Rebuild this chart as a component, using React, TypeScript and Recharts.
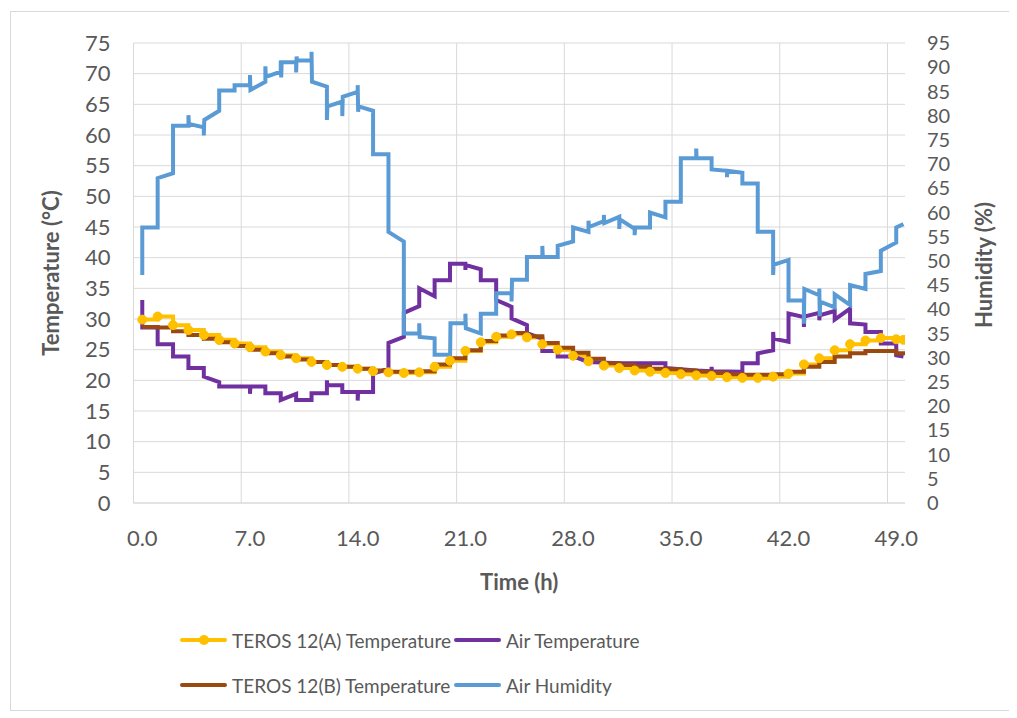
import React from "react";
import { LineChart, Line, XAxis, YAxis, CartesianGrid, ReferenceLine, Legend } from "recharts";

const FONT = "Lato, 'Open Sans', sans-serif";
const TEXT = "#595959";
const GRID = "#d9d9d9";

// hourly time stamps of the TEROS sensors (h)
const hours = [
  0, 1, 2, 3, 4, 5, 6, 7, 8, 9, 10, 11, 12, 13, 14, 15, 16, 17, 18, 19, 20, 21, 22, 23, 24,
  25, 26, 27, 28, 29, 30, 31, 32, 33, 34, 35, 36, 37, 38, 39, 40, 41, 42, 43, 44, 45, 46, 47,
  48, 49, 49.47,
];
const terosA = [
  29.9, 30.4, 29.0, 28.2, 27.4, 26.6, 26.0, 25.4, 24.7, 24.1,
  23.6, 23.0, 22.5, 22.2, 21.9, 21.5, 21.3, 21.2, 21.3, 22.2,
  23.2, 24.8, 26.2, 27.1, 27.5, 27.0, 25.9, 25.0, 24.0, 23.1,
  22.4, 22.0, 21.6, 21.4, 21.2, 21.0, 20.8, 20.7, 20.5, 20.4,
  20.4, 20.6, 21.1, 22.6, 23.6, 24.9, 25.9, 26.5, 26.9, 26.7,
  26.6,
];
const terosB = [
  28.7, 28.6, 28.0, 27.4, 26.8, 26.2, 25.6, 25.0, 24.4, 23.9,
  23.4, 23.0, 22.5, 22.2, 21.9, 21.6, 21.4, 21.4, 21.5, 22.6,
  23.6, 24.9, 26.4, 27.3, 27.7, 27.2, 26.1, 25.3, 24.5, 23.5,
  22.8, 22.5, 22.2, 21.9, 21.8, 21.6, 21.4, 21.2, 21.0, 20.9,
  20.9, 21.0, 21.4, 22.2, 23.0, 23.9, 24.4, 24.8, 24.8, 24.4,
  24.1,
];
// [time (h), air temperature (°C)]
const airTemperature: [number, number][] = [
  [0, 33.1], [0, 28.6], [1, 28.6], [1, 25.9], [2, 25.9], [2, 23.9], [3, 23.9], [3, 22.0],
  [4, 22.0], [4, 20.6], [5, 19.7], [5, 19.0], [7, 19.0], [7, 17.8], [7.03, 19.0], [8, 19.0],
  [8, 17.9], [9, 17.9], [9, 16.8], [10, 17.8], [10, 16.8], [11, 16.8], [11, 17.9], [12, 17.9],
  [12, 20.0], [12.03, 19.2], [13, 19.2], [13, 18.1], [14, 18.1], [14, 16.7], [14.03, 18.1],
  [15, 18.1], [15, 21.1], [16, 21.9], [16, 26.1], [17, 27.1], [17, 31.0], [18, 32.1],
  [18, 35.0], [19, 33.7], [19, 36.3], [20, 36.3], [20, 39.0], [21, 39.0], [21, 38.0],
  [21.03, 38.8], [22, 38.1], [22, 36.3], [23, 36.3], [23, 33.1], [24, 32.0], [24, 30.1],
  [25, 29.0], [25, 27.7], [26, 26.8], [26, 24.8], [27, 24.8], [27, 23.9], [28, 23.9],
  [29, 23.0], [31, 22.8], [34, 22.8], [34, 22.0], [36, 21.6], [37, 21.5], [37, 22.2],
  [37.03, 21.5], [39, 21.4], [39, 22.8], [40, 22.8], [40, 24.4], [41, 24.9], [41, 27.9],
  [41.03, 26.8], [42, 26.3], [42, 30.9], [43, 30.3], [43, 28.7], [43.03, 30.4], [44, 31.0],
  [44, 29.8], [44.03, 30.6], [45, 31.3], [45, 29.9], [46, 31.7], [46, 29.3], [47, 29.1],
  [47, 27.9], [48, 27.9], [48, 26.0], [49, 26.0], [49, 24.1], [49.47, 23.9],
];
// [time (h), air humidity (%)]
const airHumidity: [number, number][] = [
  [0, 47.1], [0, 56.9], [1, 56.9], [1, 67.1], [2, 68.1], [2, 77.9], [3, 77.9], [3, 80.1],
  [3.03, 78.3], [4, 77.6], [4, 75.9], [4.03, 79.1], [5, 81.0], [5, 85.2], [6, 85.2], [6, 86.3],
  [7, 86.3], [7, 88.4], [7.03, 85.3], [8, 87.0], [8, 90.2], [8.03, 88.0], [9, 89.1], [9, 91.4],
  [9.03, 87.9], [9.06, 91.0], [10, 91.0], [10, 88.9], [10.03, 92.2], [10.06, 91.4], [11, 91.4],
  [11, 93.2], [11.03, 87.0], [12, 86.0], [12, 79.1], [12.03, 81.9], [13, 82.9], [13, 79.9],
  [13.03, 83.9], [14, 84.9], [14, 86.3], [14.03, 80.8], [14.06, 81.9], [15, 81.0], [15, 72.0],
  [16, 72.0], [16, 56.0], [17, 54.0], [17, 35.0], [18, 35.0], [18, 37.1], [18.03, 34.3],
  [19, 34.0], [19, 30.6], [20, 30.6], [20, 28.9], [20.03, 37.1], [21, 37.1], [21, 39.1],
  [21.03, 36.1], [22, 35.0], [22, 39.1], [23, 39.1], [23, 43.3], [24, 43.3], [24, 41.6],
  [24.03, 46.1], [25, 46.1], [25, 50.8], [26, 50.8], [26, 53.1], [26.03, 50.8], [27, 50.8],
  [27, 53.1], [28, 54.0], [28, 56.9], [29, 56.0], [29, 58.3], [29.03, 57.0], [30, 58.2],
  [30, 59.5], [30.03, 57.8], [31, 59.1], [31, 56.6], [31.03, 58.6], [32, 56.6], [32, 55.3],
  [32.03, 56.9], [33, 56.9], [33, 60.0], [34, 59.0], [34, 62.2], [35, 62.2], [35, 71.2],
  [36, 71.2], [36, 73.2], [36.03, 71.2], [37, 71.2], [37, 68.9], [38, 68.6], [38, 67.3],
  [38.03, 68.6], [39, 68.2], [39, 66.0], [40, 66.0], [40, 56.0], [41, 56.0], [41, 47.1],
  [41.03, 49.2], [42, 50.2], [42, 41.8], [43, 41.8], [43, 37.0], [43.03, 44.2], [44, 42.9],
  [44, 44.3], [44.03, 38.6], [44.06, 41.6], [45, 40.4], [45, 43.1], [46, 40.9], [46, 45.0],
  [47, 44.2], [47, 47.3], [48, 47.9], [48, 52.1], [49, 53.8], [49, 56.9], [49.47, 57.6],
];

const timeTicks = [0, 7, 14, 21, 28, 35, 42, 49];
const temperatureTicks = [0, 5, 10, 15, 20, 25, 30, 35, 40, 45, 50, 55, 60, 65, 70, 75];
const humidityTicks = [0, 5, 10, 15, 20, 25, 30, 35, 40, 45, 50, 55, 60, 65, 70, 75, 80, 85, 90, 95];

const seriesInfo = [
  { name: "TEROS 12(A) Temperature", color: "#FFC000", marker: true },
  { name: "Air Temperature", color: "#7030A0", marker: false },
  { name: "TEROS 12(B) Temperature", color: "#9A4A10", marker: false },
  { name: "Air Humidity", color: "#5B9BD5", marker: false },
];

// half a category of padding on each side of the time axis (Excel "between tick marks")
const HALF = 0.57;

const dataA = hours.map((t, i) => ({ t, v: terosA[i] }));
const dataB = hours.map((t, i) => ({ t, v: terosB[i] }));
const dataAir = airTemperature.map(([t, v]) => ({ t, v }));
const dataHum = airHumidity.map(([t, v]) => ({ t, v }));

const LegendBox = () => (
  <div style={{ position: "relative", width: 520, height: 90, fontFamily: FONT, color: TEXT, fontSize: 19 }}>
    {seriesInfo.map((s, i) => {
      const col = i % 2;
      const row = Math.floor(i / 2);
      return (
        <div
          key={s.name}
          style={{
            position: "absolute",
            left: col === 0 ? 12 : 286,
            top: row * 45,
            height: 44,
            display: "flex",
            alignItems: "center",
            whiteSpace: "nowrap",
          }}
        >
          <div style={{ position: "relative", width: 47, height: 4, background: s.color, borderRadius: 2, marginRight: 5 }}>
            {s.marker && (
              <div
                style={{
                  position: "absolute",
                  left: 19,
                  top: -3,
                  width: 10,
                  height: 10,
                  borderRadius: 5,
                  background: s.color,
                }}
              />
            )}
          </div>
          <span>{s.name}</span>
        </div>
      );
    })}
  </div>
);

export default function App() {
  return (
    <div style={{ position: "relative", width: 1005, height: 706 }}>
      <div
        style={{
          position: "absolute",
          left: 2,
          top: 3,
          width: 1002,
          height: 700,
          border: "1px solid #d9d9d9",
          boxSizing: "border-box",
          pointerEvents: "none",
        }}
      />
      <LineChart width={1001} height={702} margin={{ top: 35, right: 0, bottom: 0, left: 0 }}>
        <CartesianGrid yAxisId="left" xAxisId="time" vertical={false} stroke={GRID} strokeWidth={1} />
        <XAxis
          xAxisId="time"
          type="number"
          dataKey="t"
          domain={[-HALF, 49 + HALF]}
          allowDataOverflow
          ticks={timeTicks}
          tickFormatter={(v: number) => v.toFixed(1)}
          tickLine={false}
          tickSize={0}
          tickMargin={27}
          axisLine={{ stroke: GRID }}
          tick={{ fill: TEXT, fontSize: 22, fontFamily: FONT }}
          height={117}
          label={{
            content: (p: any) => {
              const vb = p.viewBox;
              return (
                <text
                  x={vb.x + vb.width / 2}
                  y={vb.y + 78}
                  textAnchor="middle"
                  dominantBaseline="central"
                  fill={TEXT}
                  fontFamily={FONT}
                  fontWeight="bold"
                  fontSize={22}
                >
                  Time (h)
                </text>
              );
            },
          }}
        />
        <YAxis
          yAxisId="left"
          domain={[0, 75]}
          ticks={temperatureTicks}
          interval={0}
          width={125.5}
          tickLine={false}
          tickSize={0}
          tickMargin={23}
          axisLine={false}
          tick={{ fill: TEXT, fontSize: 22, fontFamily: FONT }}
          label={{
            content: (p: any) => {
              const vb = p.viewBox;
              const cx = vb.x + 42;
              const cy = vb.y + vb.height / 2;
              return (
                <text
                  x={cx}
                  y={cy}
                  transform={`rotate(-90, ${cx}, ${cy})`}
                  textAnchor="middle"
                  dominantBaseline="central"
                  fill={TEXT}
                  fontFamily={FONT}
                  fontWeight="bold"
                  fontSize={22}
                >
                  Temperature (°C)
                </text>
              );
            },
          }}
        />
        <YAxis
          yAxisId="right"
          orientation="right"
          domain={[0, 95]}
          ticks={humidityTicks}
          interval={0}
          width={104}
          tickLine={false}
          tickSize={0}
          tickMargin={22}
          axisLine={false}
          tick={{ fill: TEXT, fontSize: 20, fontFamily: FONT }}
          label={{
            content: (p: any) => {
              const vb = p.viewBox;
              const cx = vb.x + 78;
              const cy = vb.y + vb.height / 2 - 8;
              return (
                <text
                  x={cx}
                  y={cy}
                  transform={`rotate(-90, ${cx}, ${cy})`}
                  textAnchor="middle"
                  dominantBaseline="central"
                  fill={TEXT}
                  fontFamily={FONT}
                  fontWeight="bold"
                  fontSize={22}
                >
                  Humidity (%)
                </text>
              );
            },
          }}
        />
        {timeTicks.map((t) => (
          <ReferenceLine key={t} xAxisId="time" yAxisId="left" x={t - HALF} stroke={GRID} strokeWidth={1} />
        ))}
        <Line
          xAxisId="time"
          yAxisId="left"
          data={dataA}
          dataKey="v"
          name={seriesInfo[0].name}
          type="stepAfter"
          stroke={seriesInfo[0].color}
          strokeWidth={4}
          dot={{ r: 4.5, fill: seriesInfo[0].color, stroke: seriesInfo[0].color, strokeWidth: 1 }}
          isAnimationActive={false}
        />
        <Line
          xAxisId="time"
          yAxisId="left"
          data={dataAir}
          dataKey="v"
          name={seriesInfo[1].name}
          type="linear"
          stroke={seriesInfo[1].color}
          strokeWidth={4}
          dot={false}
          isAnimationActive={false}
        />
        <Line
          xAxisId="time"
          yAxisId="left"
          data={dataB}
          dataKey="v"
          name={seriesInfo[2].name}
          type="stepAfter"
          stroke={seriesInfo[2].color}
          strokeWidth={4}
          dot={false}
          isAnimationActive={false}
        />
        <Line
          xAxisId="time"
          yAxisId="right"
          data={dataHum}
          dataKey="v"
          name={seriesInfo[3].name}
          type="linear"
          stroke={seriesInfo[3].color}
          strokeWidth={4}
          dot={false}
          isAnimationActive={false}
        />
        <Legend
          verticalAlign="bottom"
          content={() => <LegendBox />}
          wrapperStyle={{ left: 160, top: 610, width: 520, height: 90 }}
        />
      </LineChart>
    </div>
  );
}
